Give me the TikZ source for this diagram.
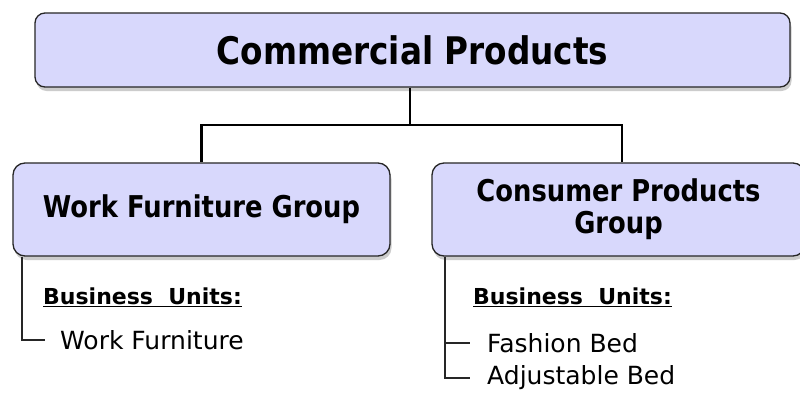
\documentclass[tikz,border=0pt]{standalone}
\usepackage{fontspec}
\setmainfont{DejaVu Sans}
\newfontfamily\headfont{DejaVu Sans}[FakeStretch=0.86]
\usetikzlibrary{shadows}
\definecolor{boxfill}{RGB}{216,216,252}
\begin{document}
\begin{tikzpicture}[x=1pt,y=-1pt,
  box/.style={draw=black!85, line width=1.3pt, fill=boxfill, rounded corners=12pt,
    drop shadow={shadow xshift=1.5pt, shadow yshift=-4pt, opacity=0.4}},
  wire/.style={line width=2.4pt, black},
  tree/.style={line width=1.1pt, black!85},
  head/.style={font=\headfont\fontsize{38}{42}\selectfont\bfseries},
  grp/.style={font=\headfont\fontsize{30}{32}\selectfont\bfseries, align=center},
  bu/.style={anchor=west, inner sep=0pt, font=\fontsize{22}{24}\selectfont\bfseries},
  item/.style={anchor=west, inner ysep=0pt, inner xsep=0pt, font=\fontsize{25}{27}\selectfont}]
\useasboundingbox (0,0) rectangle (800,399);
\fill[white] (0,0) rectangle (800,399);
\begin{scope}
\clip (0,0) rectangle (800,399);
\node[box, head, minimum width=755, minimum height=74, rounded corners=10pt] (top) at (412.5,50) {Commercial Products};
\node[box, grp, minimum width=377, minimum height=93] (wf) at (201.5,209.5) {Work Furniture Group};
\node[box, grp, minimum width=373, minimum height=93] (cp) at (618.5,209.5) {Consumer Products\\Group};
\end{scope}
\coordinate (bus) at (410,125);
\coordinate (rj) at (622,0);
\draw[wire] (top.south -| bus) -- (bus);
\draw[wire] (bus) -| (wf.north);
\draw[wire] (bus) -| (rj |- cp.north);
\node[bu] (wbu) at (43,297) {\underline{Business\ \ Units:}};
\node[bu] (cbu) at (473,297) {\underline{Business\ \ Units:}};
\coordinate (lt) at (22,0);
\coordinate (rt) at (445,0);
\node[item] (wfi) at (60,340) {Work Furniture};
\node[item] (fbi) at (487,343) {Fashion Bed};
\node[item] (abi) at (487,378) {Adjustable Bed};
\draw[tree] (wf.south -| lt) |- ([xshift=-15pt]wfi.west);
\draw[tree] (cp.south -| rt) |- ([xshift=-17pt]abi.west);
\draw[tree] (fbi.west -| rt) -- ([xshift=-17pt]fbi.west);
\end{tikzpicture}
\end{document}
